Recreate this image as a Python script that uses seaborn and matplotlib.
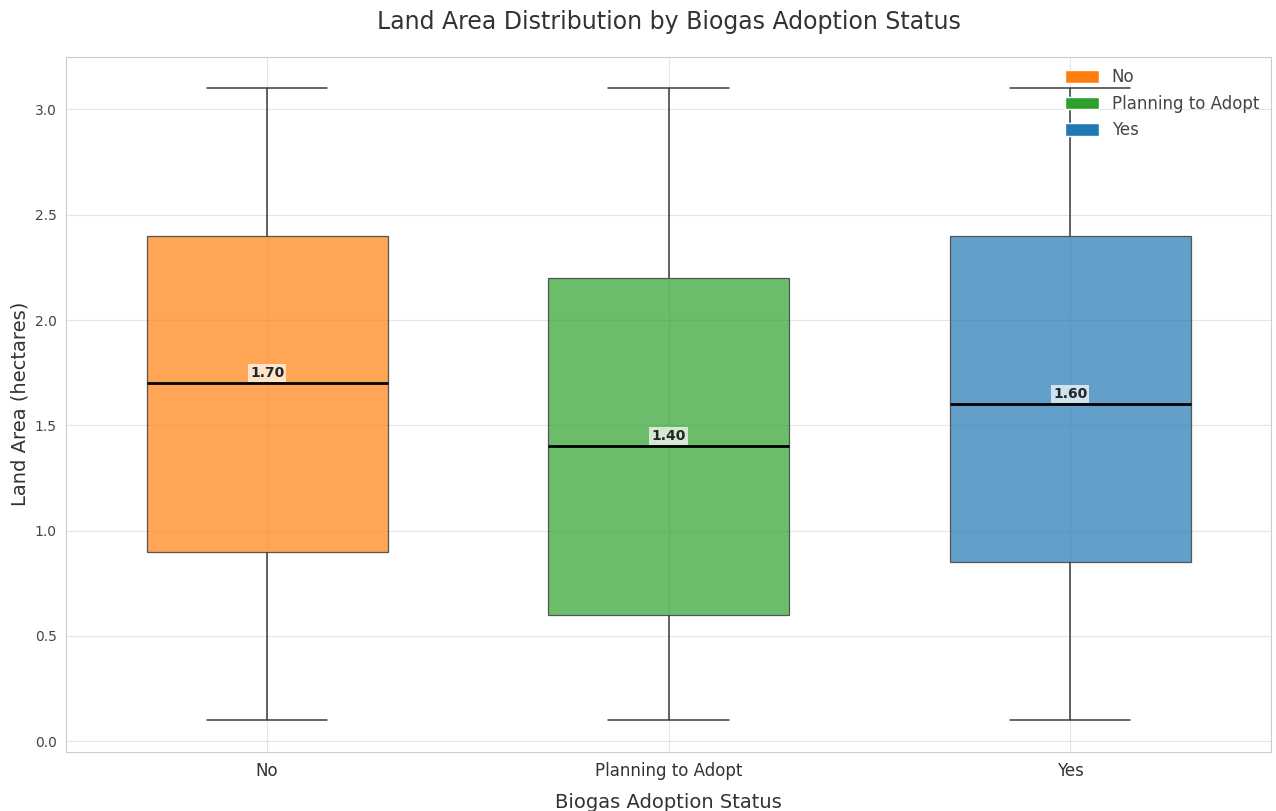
import pandas as pd
import seaborn as sns
import matplotlib.pyplot as plt
from matplotlib.patches import Patch

# five-number summaries: min, q1, median, q3, max
status = ["No", "Planning to Adopt", "Yes"]
no_vals = [0.1, 0.9, 1.7, 2.4, 3.1]
planning_vals = [0.1, 0.6, 1.4, 2.2, 3.1]
yes_vals = [0.1, 0.85, 1.6, 2.4, 3.1]
colors = ["#ff7f0e", "#2ca02c", "#1f77b4"]


def main():
    sns.set_style("whitegrid")

    df = pd.DataFrame({
        "Biogas Adoption Status": [s for s, v in zip(status, [no_vals, planning_vals, yes_vals]) for _ in v],
        "Land Area (hectares)": no_vals + planning_vals + yes_vals,
    })

    fig, ax = plt.subplots(figsize=(12.76, 8.11), dpi=100)
    fig.subplots_adjust(left=0.052, right=0.996, top=0.930, bottom=0.073)

    sns.boxplot(data=df, x="Biogas Adoption Status", y="Land Area (hectares)",
                hue="Biogas Adoption Status", order=status, hue_order=status,
                palette=colors, saturation=1, width=0.6, legend=False, ax=ax,
                linecolor="#3a3a3a", linewidth=1.1,
                medianprops=dict(color="black", linewidth=2))

    for p in ax.patches:
        fc = p.get_facecolor()
        p.set_facecolor((fc[0], fc[1], fc[2], 0.7))
        p.set_edgecolor("#555555")
        p.set_linewidth(0.9)

    medians = df.groupby("Biogas Adoption Status")["Land Area (hectares)"].median()
    for i, s in enumerate(status):
        ax.text(i, medians[s] + 0.015, f"{medians[s]:.2f}", ha="center", va="bottom",
                fontsize=10, fontweight="bold",
                bbox=dict(facecolor="white", edgecolor="none", alpha=0.7, pad=1.5))

    ax.set_title("Land Area Distribution by Biogas Adoption Status", fontsize=17, pad=20, color="#333333")
    ax.set_xlabel("Biogas Adoption Status", fontsize=14, labelpad=10, color="#333333")
    ax.set_ylabel("Land Area (hectares)", fontsize=14, color="#333333")
    ax.tick_params(axis="x", labelsize=12, colors="#333333")
    ax.tick_params(axis="y", labelsize=10, colors="#444444")
    ax.grid(True, alpha=0.5)

    handles = [Patch(facecolor=c, label=s) for s, c in zip(status, colors)]
    leg = ax.legend(handles=handles, loc="upper right", frameon=False, fontsize=12,
                    handlelength=2, handleheight=0.8, borderaxespad=0.3)
    for t in leg.get_texts():
        t.set_color("#444444")

    plt.savefig("out.png", dpi=100)


if __name__ == "__main__":
    main()
